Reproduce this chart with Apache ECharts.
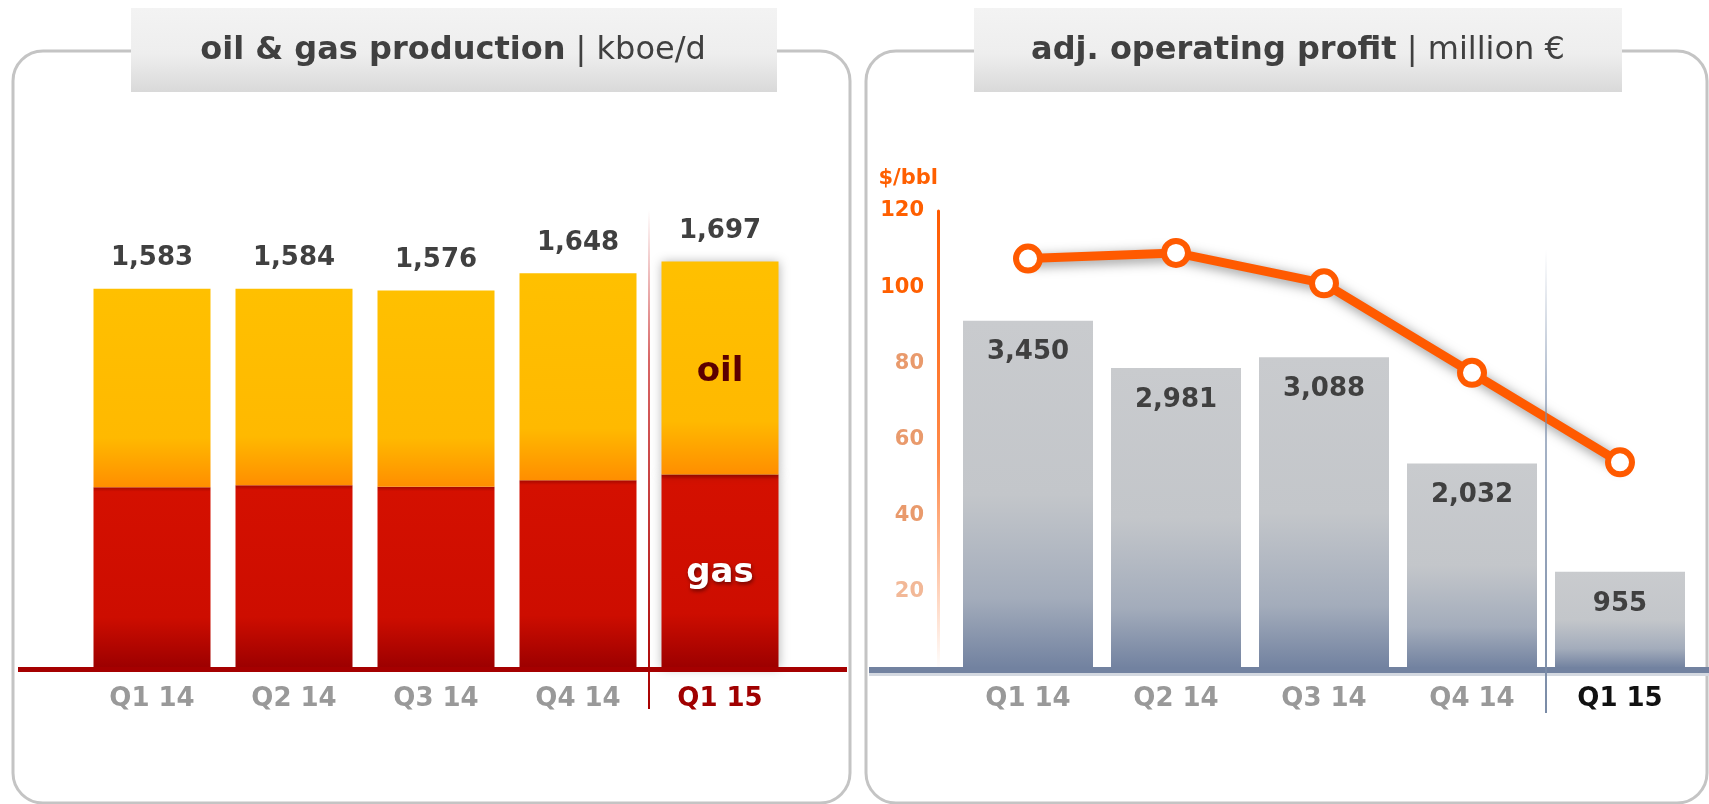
<!DOCTYPE html>
<html>
<head>
<meta charset="utf-8">
<title>production and operating profit</title>
<script src="https://cdn.jsdelivr.net/npm/echarts@6/dist/echarts.min.js"></script>
<style>
  html, body { margin: 0; padding: 0; background: #fff; }
  #main { width: 1709px; height: 804px; }
</style>
</head>
<body>
<div id="main"></div>
<script>
var quarters = ['Q1 14', 'Q2 14', 'Q3 14', 'Q4 14', 'Q1 15'];

// oil & gas production | kboe/d
var gasProd = [755, 763, 757, 784, 808];
var oilProd = [828, 821, 819, 864, 889];
var totalProd = [1583, 1584, 1576, 1648, 1697];

// adj. operating profit | million €
var opProfit = [3450, 2981, 3088, 2032, 955];

// oil price | $/bbl
var oilPrice = [107.5, 109, 101, 77.5, 54];

var FONT = 'DejaVu Sans';

function fmt(n) {
  return String(n).replace(/\B(?=(\d{3})+(?!\d))/g, ',');
}

function priceLabelColor(v) {
  v = Number(v);
  if (v >= 100) return '#ff5f00';
  if (v >= 40) return '#e99a6c';
  return '#f2b897';
}

var chart = echarts.init(document.getElementById('main'));

var last = quarters.length - 1;

var oilData = oilProd.map(function (v, i) {
  if (i !== last) return v;
  return {
    value: v,
    label: {
      show: true, position: 'inside', formatter: 'oil', offset: [0, 4],
      color: '#5c0000', fontFamily: FONT, fontSize: 34, fontWeight: 'bold'
    }
  };
});
var gasData = gasProd.map(function (v, i) {
  if (i !== last) return v;
  return {
    value: v,
    label: {
      show: true, position: 'inside', formatter: 'gas', offset: [0, 2],
      color: '#fff', fontFamily: FONT, fontSize: 34, fontWeight: 'bold',
      textShadowColor: 'rgba(60,0,0,0.7)', textShadowBlur: 4,
      textShadowOffsetX: 1, textShadowOffsetY: 2
    }
  };
});

var option = {
  animation: false,
  backgroundColor: '#fff',
  grid: [
    { left: 81, width: 710, top: 189, height: 479 },
    { left: 954, width: 740, top: 211, height: 457 }
  ],
  xAxis: [
    {
      type: 'category', gridIndex: 0, data: quarters,
      axisLine: { show: false }, axisTick: { show: false },
      axisLabel: {
        margin: 18, fontFamily: FONT, fontSize: 26, fontWeight: 'bold',
        color: function (v) { return v === 'Q1 15' ? '#a00000' : '#999999'; }
      }
    },
    {
      type: 'category', gridIndex: 1, data: quarters,
      axisLine: { show: false }, axisTick: { show: false },
      axisLabel: {
        margin: 18, fontFamily: FONT, fontSize: 26, fontWeight: 'bold',
        color: function (v) { return v === 'Q1 15' ? '#111111' : '#999999'; }
      }
    }
  ],
  yAxis: [
    { type: 'value', gridIndex: 0, min: 0, max: 2000, show: false },
    { type: 'value', gridIndex: 1, min: 0, max: 4540, show: false, position: 'right' },
    {
      type: 'value', gridIndex: 1, min: 0, max: 120, interval: 20,
      position: 'left', offset: 16,
      name: '$/bbl', nameLocation: 'end', nameGap: 22,
      nameTextStyle: {
        color: '#ff5f00', fontFamily: FONT, fontSize: 21, fontWeight: 'bold', align: 'right'
      },
      axisLine: {
        show: true,
        lineStyle: {
          width: 3,
          color: new echarts.graphic.LinearGradient(0, 0, 0, 1, [
            { offset: 0, color: '#ff5a00' },
            { offset: 0.55, color: '#ff8a4a' },
            { offset: 1, color: 'rgba(255,140,80,0)' }
          ])
        }
      },
      axisTick: { show: false },
      splitLine: { show: false },
      axisLabel: {
        margin: 14, showMinLabel: false,
        fontFamily: FONT, fontSize: 21, fontWeight: 'bold',
        color: priceLabelColor
      }
    }
  ],
  series: [
    {
      name: 'gas', type: 'bar', stack: 'prod', xAxisIndex: 0, yAxisIndex: 0,
      barWidth: 117, data: gasData,
      itemStyle: {
        color: new echarts.graphic.LinearGradient(0, 0, 0, 1, [
          { offset: 0, color: '#a50800' },
          { offset: 0.025, color: '#d41000' },
          { offset: 0.72, color: '#cd0d00' },
          { offset: 1, color: '#9c0000' }
        ]),
        shadowBlur: 10, shadowColor: 'rgba(0,0,0,0.3)'
      }
    },
    {
      name: 'oil', type: 'bar', stack: 'prod', xAxisIndex: 0, yAxisIndex: 0,
      barWidth: 117, data: oilData,
      itemStyle: {
        color: new echarts.graphic.LinearGradient(0, 0, 0, 1, [
          { offset: 0, color: '#ffc000' },
          { offset: 0.75, color: '#ffb900' },
          { offset: 1, color: '#ff8e00' }
        ]),
        shadowBlur: 10, shadowColor: 'rgba(0,0,0,0.3)'
      }
    },
    {
      name: 'total', type: 'scatter', xAxisIndex: 0, yAxisIndex: 0,
      data: totalProd, symbolSize: 1,
      itemStyle: { color: 'rgba(0,0,0,0)', opacity: 1 },
      label: {
        show: true, position: 'top', distance: 17,
        formatter: function (p) { return fmt(p.value); },
        color: '#404040', fontFamily: FONT, fontSize: 26, fontWeight: 'bold'
      },
      z: 5
    },
    {
      name: 'adj. operating profit', type: 'bar', xAxisIndex: 1, yAxisIndex: 1,
      barWidth: 130, data: opProfit,
      itemStyle: {
        color: new echarts.graphic.LinearGradient(0, 0, 0, 1, [
          { offset: 0, color: '#c9cbce' },
          { offset: 0.5, color: '#c3c6ca' },
          { offset: 0.8, color: '#a3acbb' },
          { offset: 1, color: '#7282a0' }
        ])
      },
      label: {
        show: true, position: 'insideTop', distance: 19,
        formatter: function (p) { return fmt(p.value); },
        color: '#404040', fontFamily: FONT, fontSize: 26, fontWeight: 'bold'
      }
    },
    {
      name: 'oil price', type: 'line', xAxisIndex: 1, yAxisIndex: 2,
      data: oilPrice, symbol: 'circle', symbolSize: 24,
      lineStyle: {
        width: 9, color: '#ff5a00',
        shadowBlur: 12, shadowColor: 'rgba(0,0,0,0.45)', shadowOffsetX: 2, shadowOffsetY: 3
      },
      itemStyle: {
        color: '#ffffff', borderColor: '#ff5a00', borderWidth: 6
      },
      z: 6
    }
  ],
  graphic: [
    {
      id: 'panelL', type: 'rect', z: 0,
      shape: { x: 13, y: 51, width: 837, height: 752, r: 30 },
      style: { fill: 'none', stroke: '#c4c4c4', lineWidth: 3 }
    },
    {
      id: 'panelR', type: 'rect', z: 0,
      shape: { x: 866, y: 51, width: 841, height: 752, r: 30 },
      style: { fill: 'none', stroke: '#c4c4c4', lineWidth: 3 }
    },
    {
      id: 'headL', type: 'rect', z: 1,
      shape: { x: 131, y: 8, width: 646, height: 84 },
      style: {
        fill: new echarts.graphic.LinearGradient(0, 0, 0, 1, [
          { offset: 0, color: '#f3f3f3' },
          { offset: 0.55, color: '#eeeeee' },
          { offset: 1, color: '#d9d9d9' }
        ])
      }
    },
    {
      id: 'headR', type: 'rect', z: 1,
      shape: { x: 974, y: 8, width: 648, height: 84 },
      style: {
        fill: new echarts.graphic.LinearGradient(0, 0, 0, 1, [
          { offset: 0, color: '#f3f3f3' },
          { offset: 0.55, color: '#eeeeee' },
          { offset: 1, color: '#d9d9d9' }
        ])
      }
    },
    {
      id: 'titleL', type: 'text', z: 2, x: 453, y: 51,
      style: {
        text: '{b|oil & gas production}{n| | kboe/d}',
        align: 'center', verticalAlign: 'middle', fill: '#404040',
        rich: {
          b: { fill: '#404040', fontFamily: FONT, fontSize: 32, fontWeight: 'bold' },
          n: { fill: '#404040', fontFamily: FONT, fontSize: 32, fontWeight: 'normal' }
        }
      }
    },
    {
      id: 'titleR', type: 'text', z: 2, x: 1298, y: 51,
      style: {
        text: '{b|adj. operating profit}{n| | million €}',
        align: 'center', verticalAlign: 'middle', fill: '#404040',
        rich: {
          b: { fill: '#404040', fontFamily: FONT, fontSize: 32, fontWeight: 'bold' },
          n: { fill: '#404040', fontFamily: FONT, fontSize: 32, fontWeight: 'normal' }
        }
      }
    },
    {
      id: 'baseL', type: 'rect', z: 10,
      shape: { x: 18, y: 667, width: 829, height: 5 },
      style: { fill: '#a50000' }
    },
    {
      id: 'baseR', type: 'rect', z: 10,
      shape: { x: 869, y: 667, width: 840, height: 6 },
      style: { fill: '#7282a0' }
    },
    {
      id: 'baseR2', type: 'rect', z: 10,
      shape: { x: 869, y: 673, width: 840, height: 3 },
      style: { fill: '#d3d8e0' }
    }
  ]
};

chart.setOption(option);

// separators between Q4 14 and Q1 15
var sepL = (chart.convertToPixel({ xAxisIndex: 0 }, 'Q4 14') + chart.convertToPixel({ xAxisIndex: 0 }, 'Q1 15')) / 2;
var sepR = (chart.convertToPixel({ xAxisIndex: 1 }, 'Q4 14') + chart.convertToPixel({ xAxisIndex: 1 }, 'Q1 15')) / 2;

chart.setOption({
  graphic: [
    {
      id: 'sepL', type: 'line', z: 11,
      shape: { x1: sepL, y1: 210, x2: sepL, y2: 709 },
      style: {
        lineWidth: 2,
        stroke: new echarts.graphic.LinearGradient(0, 210, 0, 709, [
          { offset: 0, color: 'rgba(190,0,0,0)' },
          { offset: 0.3, color: 'rgba(190,0,0,0.6)' },
          { offset: 1, color: '#a80000' }
        ], true)
      }
    },
    {
      id: 'sepR', type: 'line', z: 11,
      shape: { x1: sepR, y1: 250, x2: sepR, y2: 713 },
      style: {
        lineWidth: 2,
        stroke: new echarts.graphic.LinearGradient(0, 250, 0, 713, [
          { offset: 0, color: 'rgba(120,140,170,0)' },
          { offset: 0.3, color: 'rgba(120,140,170,0.6)' },
          { offset: 1, color: '#7a8ba6' }
        ], true)
      }
    }
  ]
});
</script>
</body>
</html>
